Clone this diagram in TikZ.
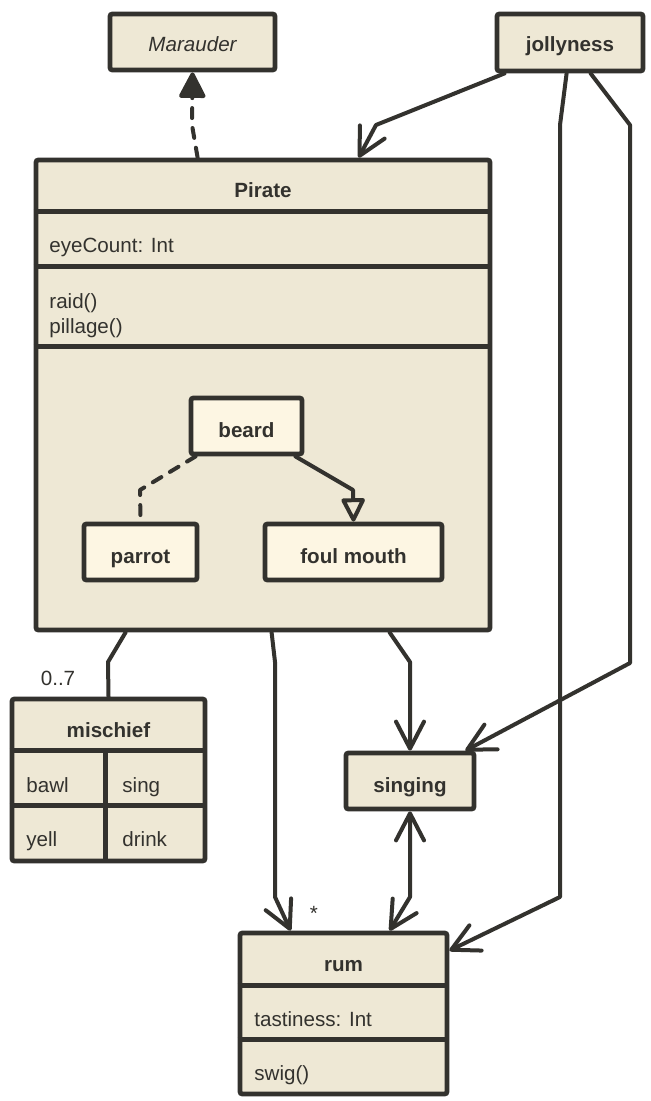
\documentclass[tikz,border=0pt]{standalone}
\usepackage{fontspec}
\setmainfont{Liberation Sans}
\usetikzlibrary{arrows.meta,calc}
\definecolor{ink}{HTML}{33322E}
\definecolor{fillA}{HTML}{EEE8D5}
\definecolor{fillB}{HTML}{FDF6E3}
\begin{document}
\begin{tikzpicture}[x=0.5pt,y=-0.5pt,
  cls/.style={draw=ink, fill=fillA, line width=2.4pt, rounded corners=1.2pt, inner sep=0pt},
  inner/.style={cls, fill=fillB},
  txt/.style={text=ink, inner sep=0pt, font=\fontsize{10.3}{12}\selectfont},
  btxt/.style={txt, font=\fontsize{10.3}{12}\selectfont\bfseries},
  itxt/.style={txt, font=\fontsize{10.3}{12}\selectfont\itshape},
  divider/.style={draw=ink, line width=2.2pt},
  link/.style={draw=ink, line width=2pt, line cap=round, line join=round},
  barb/.tip={Straight Barb[length=13.5pt,width=14pt,round]},
  arr/.style={link, -barb},
  dashlink/.style={link, dash pattern=on 5pt off 5pt}]
\path[fill=white] (0,0) rectangle (651,1101);
\useasboundingbox (0,0) rectangle (651,1101);

% --- boxes ---
\node[cls, minimum width=82.5pt, minimum height=28pt] (marauder) at (192.5,42) {};
\node[itxt, anchor=base] (tmar) at (192.5,52) {Marauder};

\node[cls, minimum width=73pt, minimum height=28.5pt] (jolly) at (570,42.5) {};
\node[btxt, anchor=base] (tjol) at (570,52) {jollyness};

\node[cls, minimum width=227pt, minimum height=235pt] (pirate) at (263,395) {};
\draw[divider] ($(pirate.north west)+(0,54)$) -- ($(pirate.north east)+(0,54)$);
\draw[divider] ($(pirate.north west)+(0,109)$) -- ($(pirate.north east)+(0,109)$);
\draw[divider] ($(pirate.north west)+(0,189)$) -- ($(pirate.north east)+(0,189)$);
\node[btxt, anchor=base] (tpir) at (263,198) {Pirate};
\node[txt, anchor=base west] (teye) at (49,253) {eyeCount: Int};
\node[txt, anchor=base west] (traid) at (49,308) {raid()};
\node[txt, anchor=base west] (tpil) at (49,334) {pillage()};

\node[inner, minimum width=55.5pt, minimum height=28pt] (beard) at (246.5,426) {};
\node[btxt, anchor=base] (tbea) at (246.5,437) {beard};
\node[inner, minimum width=56.5pt, minimum height=28pt] (parrot) at (140.5,552) {};
\node[btxt, anchor=base] (tpar) at (140.5,563) {parrot};
\node[inner, minimum width=88.5pt, minimum height=28pt] (foul) at (353.5,552) {};
\node[btxt, anchor=base] (tfou) at (353.5,563) {foul mouth};

\node[cls, minimum width=96.5pt, minimum height=81pt] (mischief) at (108.5,780) {};
\draw[divider] ($(mischief.north west)+(0,54)$) -- ($(mischief.north east)+(0,54)$);
\draw[divider] ($(mischief.north west)+(0,109)$) -- ($(mischief.north east)+(0,109)$);
\draw[divider] ($(mischief.north west)+(96,54)$) -- ($(mischief.south west)+(96,0)$);
\node[btxt, anchor=base] (tmis) at (108.5,737) {mischief};
\node[txt, anchor=base west] (tbawl) at (26,792) {bawl};
\node[txt, anchor=base west] (tsing) at (122,792) {sing};
\node[txt, anchor=base west] (tyell) at (26,846) {yell};
\node[txt, anchor=base west] (tdrink) at (122,846) {drink};

\node[cls, minimum width=64pt, minimum height=28pt] (singing) at (410,781) {};
\node[btxt, anchor=base] (tsin) at (410,792) {singing};

\node[cls, minimum width=103.5pt, minimum height=80.5pt] (rum) at (343.5,1013.5) {};
\draw[divider] ($(rum.north west)+(0,55)$) -- ($(rum.north east)+(0,55)$);
\draw[divider] ($(rum.north west)+(0,109)$) -- ($(rum.north east)+(0,109)$);
\node[btxt, anchor=base] (trum) at (343.5,971) {rum};
\node[txt, anchor=base west] (ttas) at (254,1026) {tastiness: Int};
\node[txt, anchor=base west] (tswig) at (254,1080) {swig()};

% --- labels ---
\node[txt, anchor=base] (l07) at (58,685) {0..7};
\node[txt, anchor=base] (lstar) at (314,920) {*};

% --- connectors ---
\draw[dashlink, -{Triangle[length=14pt,width=14pt,round]}]
  ($(pirate.north west)+(164,0)$) -- (192,125) -- (marauder.south);
\draw[arr] ($(jolly.south west)+(10,0)$) -- (376,125) -- ($(pirate.north west)+(325,0)$);
\draw[arr] ($(jolly.south west)+(72,0)$) -- (560,125) -- (560,897) -- ($(rum.north east)+(0,20)$);
\draw[arr] ($(jolly.south west)+(96,0)$) -- (630,125) -- (630,663) -- ($(singing.north east)+(-11,0)$);
\draw[link] ($(pirate.south west)+(92,0)$) -- (108,662) -- (mischief.north);
\draw[arr] ($(pirate.south west)+(238,0)$) -- (275,662) -- (275,897) -- ($(rum.north west)+(53,0)$);
\draw[arr] ($(pirate.south west)+(356,0)$) -- (410,662) -- (singing.north);
\draw[link, barb-barb]
  (singing.south) -- (410,897) -- ($(rum.north west)+(152,0)$);
\draw[dashlink] ($(beard.south west)+(7,0)$) -- (140,490) -- (parrot.north);
\draw[link, -{Triangle[length=13pt,width=12.5pt,fill=fillA,round]}]
  ($(beard.south east)+(-9,0)$) -- (353,490) -- (foul.north);
\end{tikzpicture}
\end{document}
